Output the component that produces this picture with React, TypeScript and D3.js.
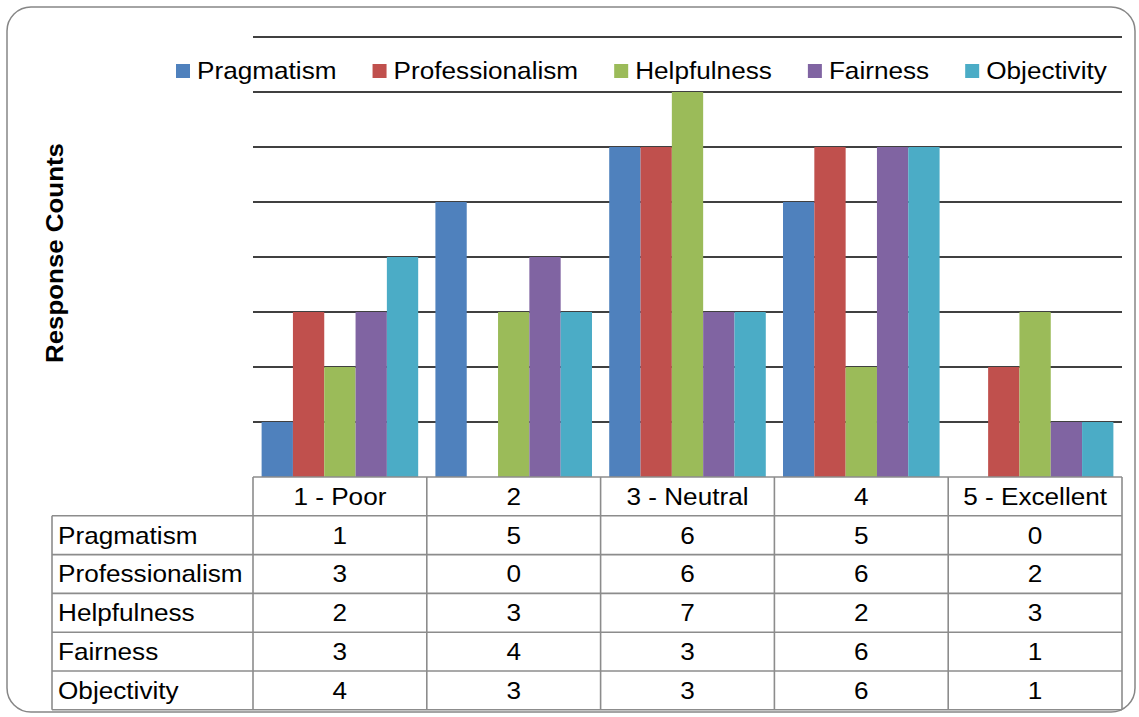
import React, { useEffect, useRef } from "react";
import * as d3 from "d3";

// Rating buckets along the x axis
const categories = ["1 - Poor", "2", "3 - Neutral", "4", "5 - Excellent"];
// Attribute series
const seriesNames = ["Pragmatism", "Professionalism", "Helpfulness", "Fairness", "Objectivity"];
const pragmatism = [1, 5, 6, 5, 0];
const professionalism = [3, 0, 6, 6, 2];
const helpfulness = [2, 3, 7, 2, 3];
const fairness = [3, 4, 3, 6, 1];
const objectivity = [4, 3, 3, 6, 1];
const seriesColors = ["#4F81BD", "#C0504D", "#9BBB59", "#8064A2", "#4BACC6"];
const yTicks = [1, 2, 3, 4, 5, 6, 7, 8];

const seriesValues = [pragmatism, professionalism, helpfulness, fairness, objectivity];

const W = 1139;
const H = 717;
const FONT = "'Liberation Sans', Arial, sans-serif";
const FONT_SIZE = 24;
const STRETCH = 1.09; // text is drawn slightly wide

export default function App() {
  const ref = useRef<SVGSVGElement | null>(null);

  useEffect(() => {
    const svg = d3.select(ref.current);
    svg.selectAll("*").remove();

    const plotLeft = 253;
    const plotRight = 1122;
    const plotTop = 37;
    const plotBottom = 477;

    // wide text helper
    const label = (
      parent: d3.Selection<any, any, any, any>,
      x: number,
      yy: number,
      s: string,
      anchor: string = "start"
    ) =>
      parent
        .append("g")
        .attr("transform", `translate(${x},${yy}) scale(${STRETCH},1)`)
        .append("text")
        .attr("dy", "0.35em")
        .attr("text-anchor", anchor)
        .attr("font-family", FONT)
        .attr("font-size", FONT_SIZE)
        .attr("fill", "#000")
        .text(s);

    // outer frame
    svg
      .append("rect")
      .attr("x", 7)
      .attr("y", 7)
      .attr("width", 1128)
      .attr("height", 705)
      .attr("rx", 24)
      .attr("fill", "#fff")
      .attr("stroke", "#868686")
      .attr("stroke-width", 1.5);

    const x0 = d3.scaleBand<string>().domain(categories).range([plotLeft, plotRight]).paddingInner(0);
    const x1 = d3
      .scaleBand<string>()
      .domain(seriesNames)
      .range([0, x0.bandwidth()])
      .paddingInner(0)
      .paddingOuter(0.275);
    const y = d3.scaleLinear().domain([0, 8]).range([plotBottom, plotTop]);

    // gridlines
    svg
      .append("g")
      .selectAll("line")
      .data(yTicks)
      .join("line")
      .attr("x1", plotLeft)
      .attr("x2", plotRight)
      .attr("y1", (d) => y(d))
      .attr("y2", (d) => y(d))
      .attr("stroke", "#000")
      .attr("stroke-width", 1.4);

    // bars
    const groups = svg
      .append("g")
      .selectAll("g")
      .data(categories)
      .join("g")
      .attr("transform", (c) => `translate(${x0(c)},0)`);

    groups
      .selectAll("rect")
      .data((c, ci) => seriesNames.map((s, si) => ({ s, si, v: seriesValues[si][ci] })))
      .join("rect")
      .attr("x", (d) => x1(d.s)!)
      .attr("width", x1.bandwidth())
      .attr("y", (d) => y(d.v))
      .attr("height", (d) => y(0) - y(d.v))
      .attr("fill", (d) => seriesColors[d.si]);

    // legend
    const canvas = document.createElement("canvas");
    const ctx = canvas.getContext("2d")!;
    ctx.font = `${FONT_SIZE}px ${FONT}`;
    const legend = svg.append("g");
    let lx = 176;
    const ly = 71;
    seriesNames.forEach((s, i) => {
      legend
        .append("rect")
        .attr("x", lx)
        .attr("y", ly - 7)
        .attr("width", 14)
        .attr("height", 14)
        .attr("fill", seriesColors[i]);
      label(legend, lx + 21, ly, s);
      lx += 21 + ctx.measureText(s).width * STRETCH + 36;
    });

    // y-axis title
    svg
      .append("text")
      .attr("transform", `translate(63,253) rotate(-90)`)
      .attr("text-anchor", "middle")
      .attr("font-family", FONT)
      .attr("font-size", 23)
      .attr("font-weight", "bold")
      .attr("textLength", 220)
      .attr("lengthAdjust", "spacingAndGlyphs")
      .attr("fill", "#000")
      .text("Response Counts");

    // data table
    const tableLeft = 52;
    const headerTop = plotBottom;
    const rowH = 38.8;
    const rowsTop = headerTop + rowH;
    const tableBottom = rowsTop + rowH * seriesNames.length;
    const grid = svg.append("g").attr("stroke", "#8c8c8c").attr("stroke-width", 1.6).attr("fill", "none");

    grid.append("line").attr("x1", plotLeft).attr("x2", plotRight).attr("y1", headerTop).attr("y2", headerTop);
    d3.range(seriesNames.length + 1).forEach((r) => {
      const yy = rowsTop + r * rowH;
      grid.append("line").attr("x1", tableLeft).attr("x2", plotRight).attr("y1", yy).attr("y2", yy);
    });
    grid.append("line").attr("x1", tableLeft).attr("x2", tableLeft).attr("y1", rowsTop).attr("y2", tableBottom);
    const colEdges = [...categories.map((c) => x0(c)!), plotRight];
    colEdges.forEach((cx) => {
      grid.append("line").attr("x1", cx).attr("x2", cx).attr("y1", headerTop).attr("y2", tableBottom);
    });

    const txt = svg.append("g");
    categories.forEach((c) => {
      label(txt, x0(c)! + x0.bandwidth() / 2, headerTop + rowH / 2, c, "middle");
    });
    seriesNames.forEach((s, si) => {
      const cy = rowsTop + si * rowH + rowH / 2;
      label(txt, 58, cy, s);
      categories.forEach((c, ci) => {
        label(txt, x0(c)! + x0.bandwidth() / 2, cy, String(seriesValues[si][ci]), "middle");
      });
    });
  }, []);

  return (
    <div style={{ position: "absolute", left: 0, top: 0, width: W, height: H, background: "#fff" }}>
      <svg ref={ref} width={W} height={H} />
    </div>
  );
}
